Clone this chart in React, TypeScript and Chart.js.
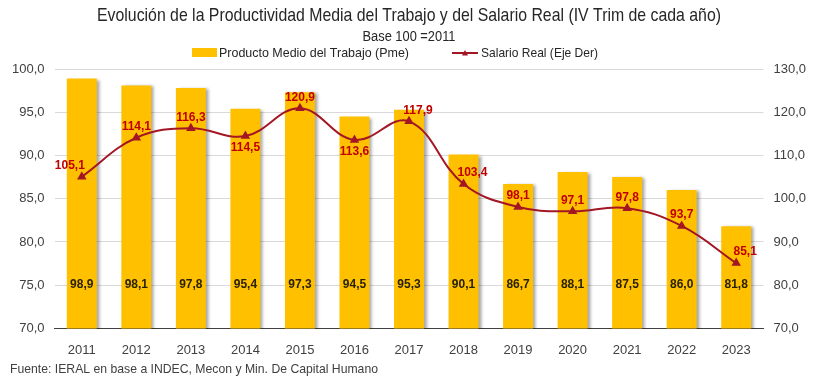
import React, { useEffect, useRef } from 'react';
import { Chart, registerables } from 'chart.js';

Chart.register(...registerables);

const years = ['2011', '2012', '2013', '2014', '2015', '2016', '2017', '2018', '2019', '2020', '2021', '2022', '2023'];
const productoMedio = [98.9, 98.1, 97.8, 95.4, 97.3, 94.5, 95.3, 90.1, 86.7, 88.1, 87.5, 86.0, 81.8];
const salarioReal = [105.1, 114.1, 116.3, 114.5, 120.9, 113.6, 117.9, 103.4, 98.1, 97.1, 97.8, 93.7, 85.1];

const titleText = 'Evolución de la Productividad Media del Trabajo y del Salario Real (IV Trim de cada año)';
const subtitleText = 'Base 100 =2011';
const legendBar = 'Producto Medio del Trabajo (Pme)';
const legendLine = 'Salario Real (Eje Der)';
const footerText = 'Fuente: IERAL en base a INDEC, Mecon y Min. De Capital Humano';

const BAR_COLOR = '#FFC000';
const LINE_COLOR = '#A31624';
const LABEL_RED = '#C00000';
const SANS = '"Liberation Sans", Arial, sans-serif';

// label placement for line labels: a = above, b = below, al = above-left, ar = above-right
const linePlacement = ['al', 'a', 'a', 'b', 'a', 'b', 'ar', 'ar', 'a', 'a', 'a', 'a', 'ar'];

const fmt = (v: number) => v.toFixed(1).replace('.', ',');

function drawTriangle(ctx: CanvasRenderingContext2D, x: number, y: number, r: number) {
  ctx.beginPath();
  ctx.moveTo(x, y - r);
  ctx.lineTo(x + r, y + r * 0.8);
  ctx.lineTo(x - r, y + r * 0.8);
  ctx.closePath();
  ctx.fill();
}

// draw text condensed horizontally to a target width (emulates a narrow font)
function fitText(ctx: CanvasRenderingContext2D, text: string, x: number, y: number, width: number, align: 'left' | 'center') {
  const w = ctx.measureText(text).width;
  const s = Math.min(1, width / w);
  ctx.save();
  ctx.translate(x, y);
  ctx.scale(s, 1);
  ctx.textAlign = align;
  ctx.fillText(text, 0, 0);
  ctx.restore();
}

const shadowPlugin = {
  id: 'barShadow',
  beforeDatasetDraw(chart: any, args: any) {
    if (args.index === 0) {
      const ctx = chart.ctx;
      ctx.save();
      ctx.shadowColor = 'rgba(0,0,0,0.35)';
      ctx.shadowOffsetX = 3;
      ctx.shadowOffsetY = 1;
      ctx.shadowBlur = 3;
    }
  },
  afterDatasetDraw(chart: any, args: any) {
    if (args.index === 0) chart.ctx.restore();
  },
};

const textPlugin = {
  id: 'texts',
  afterDraw(chart: any) {
    const ctx: CanvasRenderingContext2D = chart.ctx;
    const { scales } = chart;
    ctx.save();
    ctx.textBaseline = 'middle';
    // title
    ctx.fillStyle = '#262626';
    ctx.font = `19px ${SANS}`;
    fitText(ctx, titleText, 409, 16, 624, 'center');
    ctx.font = `14px ${SANS}`;
    fitText(ctx, subtitleText, 409, 37, 93, 'center');

    // legend
    ctx.font = `13px ${SANS}`;
    ctx.fillStyle = BAR_COLOR;
    ctx.fillRect(192, 48, 25, 9);
    ctx.fillStyle = '#262626';
    fitText(ctx, legendBar, 219, 53, 190, 'left');
    ctx.strokeStyle = LINE_COLOR;
    ctx.lineWidth = 2;
    ctx.beginPath();
    ctx.moveTo(452, 53);
    ctx.lineTo(478, 53);
    ctx.stroke();
    ctx.fillStyle = LINE_COLOR;
    drawTriangle(ctx, 465, 53, 3);
    ctx.fillStyle = '#262626';
    fitText(ctx, legendLine, 481, 53, 117, 'left');

    // footer
    ctx.font = `13px ${SANS}`;
    ctx.fillStyle = '#404040';
    fitText(ctx, footerText, 10, 369, 368, 'left');

    // bar labels
    const barMeta = chart.getDatasetMeta(0);
    ctx.font = `bold 12px ${SANS}`;
    ctx.fillStyle = '#2a2200';
    ctx.textAlign = 'center';
    const yLab = scales.y.getPixelForValue(75);
    barMeta.data.forEach((el: any, i: number) => {
      ctx.fillText(fmt(productoMedio[i]), el.x, yLab);
    });

    // line labels
    const lineMeta = chart.getDatasetMeta(1);
    ctx.fillStyle = LABEL_RED;
    lineMeta.data.forEach((el: any, i: number) => {
      const p = linePlacement[i];
      let dx = 0;
      let dy = -11;
      if (p === 'b') dy = 12;
      if (p === 'al') dx = -12;
      if (p === 'ar') dx = 9;
      ctx.fillText(fmt(salarioReal[i]), el.x + dx, el.y + dy);
    });
    ctx.restore();
  },
};

export default function App() {
  const ref = useRef<HTMLCanvasElement | null>(null);
  useEffect(() => {
    if (!ref.current) return;
    const chart = new Chart(ref.current, {
      type: 'bar',
      data: {
        labels: years,
        datasets: [
          {
            type: 'bar',
            label: legendBar,
            data: productoMedio,
            backgroundColor: BAR_COLOR,
            yAxisID: 'y',
            order: 2,
            categoryPercentage: 1,
            barPercentage: 0.55,
          },
          {
            type: 'line',
            label: legendLine,
            data: salarioReal,
            borderColor: LINE_COLOR,
            backgroundColor: LINE_COLOR,
            borderWidth: 2,
            pointStyle: 'triangle',
            pointRadius: 3.5,
            tension: 0.4,
            yAxisID: 'y1',
            order: 1,
          },
        ],
      },
      options: {
        responsive: false,
        animation: false,
        layout: { padding: { top: 69, bottom: 20, left: 2, right: 2 } },
        plugins: {
          legend: { display: false },
          title: { display: false },
          tooltip: { enabled: false },
        },
        scales: {
          x: {
            grid: { display: false },
            border: { display: true, color: '#404040', width: 1 },
            ticks: { color: '#404040', font: { size: 13, family: SANS }, padding: 6 },
          },
          y: {
            position: 'left',
            min: 70,
            max: 100,
            ticks: {
              stepSize: 5,
              color: '#404040',
              font: { size: 13, family: SANS },
              padding: 10,
              callback: (v: any) => fmt(Number(v)),
            },
            grid: { color: '#d9d9d9', drawTicks: false },
            border: { display: false },
          },
          y1: {
            position: 'right',
            min: 70,
            max: 130,
            ticks: {
              stepSize: 10,
              color: '#404040',
              font: { size: 13, family: SANS },
              padding: 10,
              callback: (v: any) => fmt(Number(v)),
            },
            grid: { drawOnChartArea: false, drawTicks: false },
            border: { display: false },
          },
        },
      },
      plugins: [shadowPlugin, textPlugin],
    });
    return () => chart.destroy();
  }, []);
  return (
    <div style={{ position: 'absolute', left: 0, top: 0, width: 818, height: 384, background: '#fff' }}>
      <canvas ref={ref} width={818} height={384} />
    </div>
  );
}
